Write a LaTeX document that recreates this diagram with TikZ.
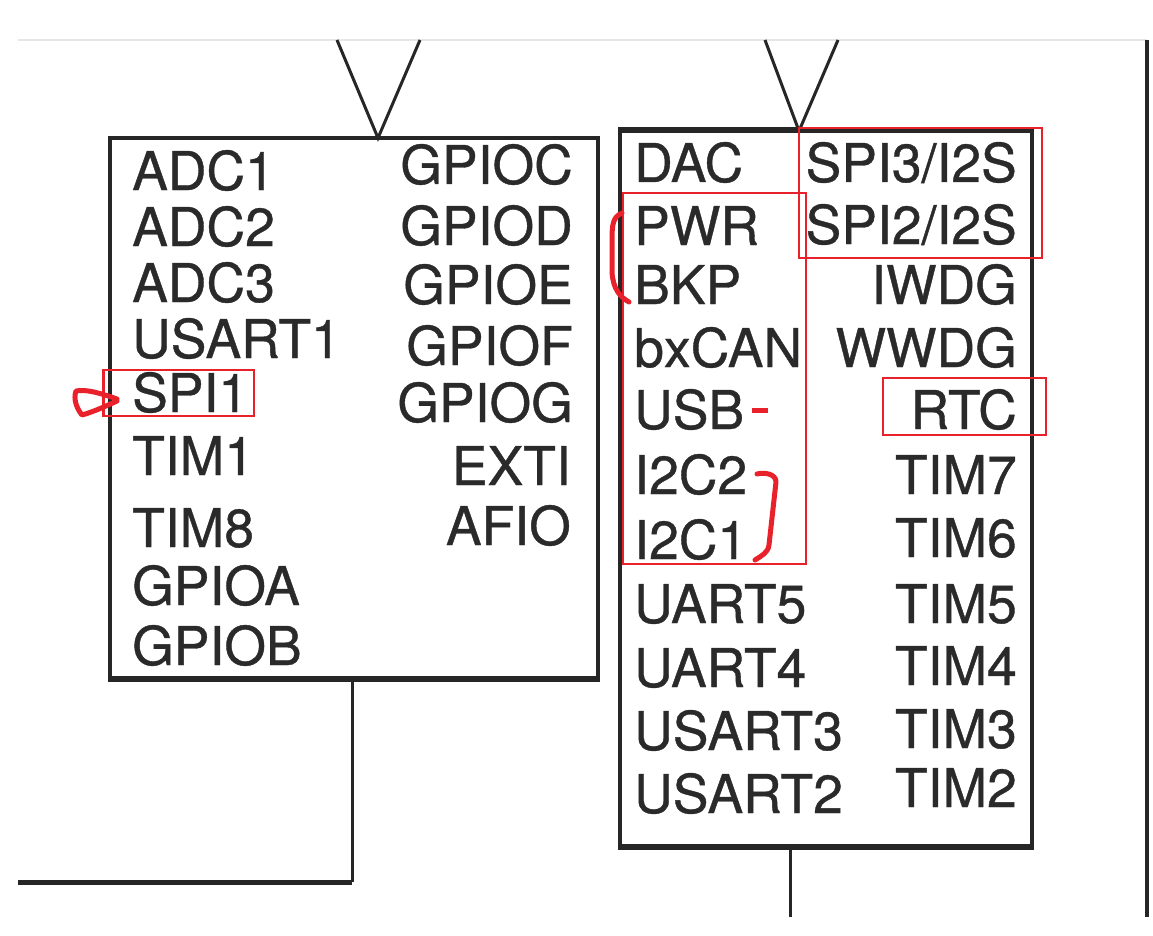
\documentclass[tikz,border=0pt]{standalone}
\usepackage{fontspec}
\setmainfont{TeX Gyre Heros}
\newfontfamily\scanfont[FakeBold=0.7]{TeX Gyre Heros}
\definecolor{ink}{HTML}{262626}
\definecolor{txt}{HTML}{2A2A2A}
\definecolor{annred}{HTML}{E8212B}
\definecolor{faint}{HTML}{E6E6E6}
\tikzset{
  box/.style={draw=ink, line width=3.2, inner sep=0, rectangle},
  wire/.style={draw=ink, line width=3},
  lbl/.style={inner sep=0, text=txt, font=\scanfont\fontsize{53.5}{60}\selectfont},
  lw/.style={lbl, anchor=base west},
  le/.style={lbl, anchor=base east},
  redbox/.style={draw=annred, line width=2.4, inner sep=0, rectangle},
  redpen/.style={draw=annred, line width=5, line cap=round, line join=round},
}
\begin{document}
\begin{tikzpicture}[x=1pt,y=-1pt]
\useasboundingbox (0,0) rectangle (1153,936);
\fill[white] (0,0) rectangle (1153,936);
% faint scan line
\coordinate (t0) at (18,40);
\coordinate (t1) at (1147,40);
\draw[faint, line width=1.5] (t0) -- (t1);

% boxes
\node[box, minimum width=488, minimum height=540] (lb) at (354,408) {};
\node[box, minimum width=412, minimum height=715] (rb) at (826,488.5) {};
\draw[ink, line width=5] (lb.south west) -- (lb.south east);
\draw[ink, line width=5] (rb.south west) -- (rb.south east);
\draw[ink, line width=4.5] (rb.north west) -- (rb.north east);

% V connectors
\coordinate (v1l) at (337,40);
\coordinate (v1r) at (420,40);
\coordinate (a1) at (378,138);
\coordinate (v2l) at (765,40);
\coordinate (v2r) at (838,40);
\coordinate (a2) at (799,131);
\draw[wire, line join=miter] (v1l) -- (a1) -- (v1r);
\draw[wire, line join=miter] (v2l) -- (a2) -- (v2r);

% lines below
\coordinate (d1) at (352,678);
\coordinate (c1) at (352,882);
\coordinate (e1) at (18,882);
\draw[wire] (d1) -- (c1);
\draw[ink, line width=5] (c1) -- (e1);
\coordinate (d2) at (790,846);
\coordinate (e2) at (790,917);
\draw[wire] (d2) -- (e2);
\coordinate (r0) at (1147,40);
\coordinate (r1) at (1147,917);
\draw[ink, line width=4.5] (r0) -- (r1);

% left box texts
\node[lw] (adc1) at (132,190) {ADC1};
\node[lw] (adc2) at (132,246) {ADC2};
\node[lw] (adc3) at (132,302) {ADC3};
\node[lw] (usart1) at (132,358) {USART1};
\node[lw] (spi1) at (132,412) {SPI1};
\node[lw] (tim1) at (132,475) {TIM1};
\node[lw] (tim8) at (132,547) {TIM8};
\node[lw] (gpioa) at (132,605) {GPIOA};
\node[lw] (gpiob) at (132,665) {GPIOB};
\node[le] (gpioc) at (573,184) {GPIOC};
\node[le] (gpiod) at (573,245) {GPIOD};
\node[le] (gpioe) at (573,304) {GPIOE};
\node[le] (gpiof) at (573,365) {GPIOF};
\node[le] (gpiog) at (573,422) {GPIOG};
\node[le] (exti) at (571,485) {EXTI};
\node[le] (afio) at (571,545) {AFIO};

% right box texts
\node[lw] (dac) at (634,182) {DAC};
\node[lw] (pwr) at (634,245) {PWR};
\node[lw] (bkp) at (634,304) {BKP};
\node[lw] (bxcan) at (634,367) {bxCAN};
\node[lw] (usb) at (634,429) {USB};
\node[lw] (i2c2) at (634,494) {I2C2};
\node[lw] (i2c1) at (634,559) {I2C1};
\node[lw] (uart5) at (634,623) {UART5};
\node[lw] (uart4) at (634,687) {UART4};
\node[lw] (usart3) at (634,750) {USART3};
\node[lw] (usart2) at (634,813) {USART2};
\node[le] (spi3) at (1017,182) {SPI3/I2S};
\node[le] (spi2) at (1017,244) {SPI2/I2S};
\node[le] (iwdg) at (1017,304) {IWDG};
\node[le] (wwdg) at (1017,367) {WWDG};
\node[le] (rtc) at (1017,429) {RTC};
\node[le] (tim7) at (1017,494) {TIM7};
\node[le] (tim6) at (1017,557) {TIM6};
\node[le] (tim5) at (1017,623) {TIM5};
\node[le] (tim4) at (1017,685) {TIM4};
\node[le] (tim3) at (1017,748) {TIM3};
\node[le] (tim2) at (1017,807) {TIM2};

% red annotations
\node[redbox, minimum width=150.5, minimum height=46] (r1box) at (178.75,393) {};
\node[redbox, minimum width=183, minimum height=371] (r2box) at (714.5,378.5) {};
\node[redbox, minimum width=243, minimum height=130] (r3box) at (920.5,193) {};
\node[redbox, minimum width=163, minimum height=57] (r4box) at (964.5,406.5) {};
\draw[redpen] (117,399) .. controls (100,393) and (86,389) .. (76,391)
  .. controls (73,399) and (77,409) .. (82,415)
  .. controls (93,412) and (106,406) .. (117,401);
\draw[redpen] (622,213) .. controls (613,217) and (612,224) .. (612,240)
  -- (612,272) .. controls (613,289) and (620,297) .. (629,302);
\draw[annred, line width=5] (752,410) -- (768,410);
\draw[redpen] (757,474) .. controls (765,472) and (776,474) .. (776,482)
  -- (769,545) .. controls (768,553) and (761,556) .. (755,560);
\end{tikzpicture}
\end{document}
